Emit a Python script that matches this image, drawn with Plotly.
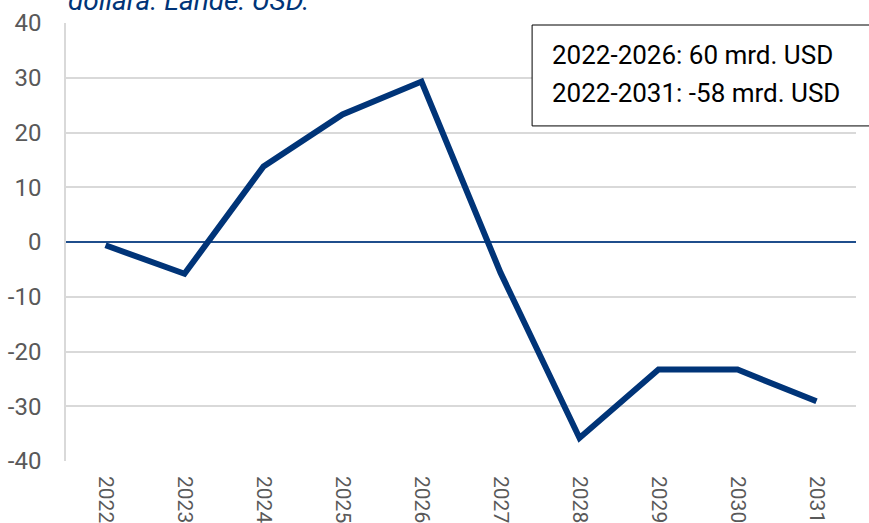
import plotly.graph_objects as go

# Annual balance, billion USD
years = ["2022", "2023", "2024", "2025", "2026", "2027", "2028", "2029", "2030", "2031"]
balance = [-0.6, -5.8, 13.8, 23.3, 29.3, -5.6, -35.8, -23.3, -23.3, -29.1]
y_ticks = [-40, -30, -20, -10, 0, 10, 20, 30, 40]

summary_lines = ["2022-2026: 60 mrd. USD", "2022-2031: -58 mrd. USD"]
subtitle = "dollara. Lande: USD."

NAVY = "#003478"
GRID = "#d9d9d9"
TICK = "#595959"
FONT = "Roboto"

fig = go.Figure()
fig.add_trace(go.Scatter(
    x=years, y=balance, mode="lines",
    line=dict(color=NAVY, width=6),
    hoverinfo="skip", showlegend=False,
))

fig.update_layout(
    width=869, height=523,
    margin=dict(l=66, r=13, t=23, b=62),
    paper_bgcolor="white", plot_bgcolor="white",
    font=dict(family=FONT, color=TICK),
    xaxis=dict(
        type="category", tickangle=90, automargin=False,
        range=[-0.5, len(years) - 0.5],
        tickfont=dict(size=21, color=TICK, family=FONT),
        showgrid=False, showline=False, zeroline=False,
        ticks="", ticklabelstandoff=14,
    ),
    yaxis=dict(
        range=[-40, 40], tickvals=y_ticks,
        ticktext=[str(v) for v in y_ticks], automargin=False,
        tickfont=dict(size=24, color=TICK, family=FONT),
        showgrid=True, gridcolor=GRID, gridwidth=1.5,
        zeroline=True, zerolinecolor="#1f4e8c", zerolinewidth=1.5,
        showline=True, linecolor=GRID, linewidth=1.5,
        ticks="", ticklabelstandoff=18,
    ),
)

# Summary box in the upper right corner
fig.add_shape(
    type="rect", xref="paper", yref="paper",
    x0=0.59, x1=1.05, y0=0.765, y1=0.9954,
    line=dict(color="black", width=1), fillcolor="white", layer="above",
)
for i, txt in enumerate(summary_lines):
    fig.add_annotation(
        xref="paper", yref="paper", x=0.613, y=0.928 - i * 0.087,
        text=txt, showarrow=False, xanchor="left", yanchor="middle",
        font=dict(size=26, color="black", family=FONT),
    )

# Subtitle line running off the top edge
fig.add_annotation(
    xref="paper", yref="paper", x=0.0, y=1.0,
    yshift=4, text=subtitle, showarrow=False,
    xanchor="left", yanchor="bottom",
    font=dict(size=28, color=NAVY, family=FONT, style="italic"),
)

fig.write_html("out.html")
